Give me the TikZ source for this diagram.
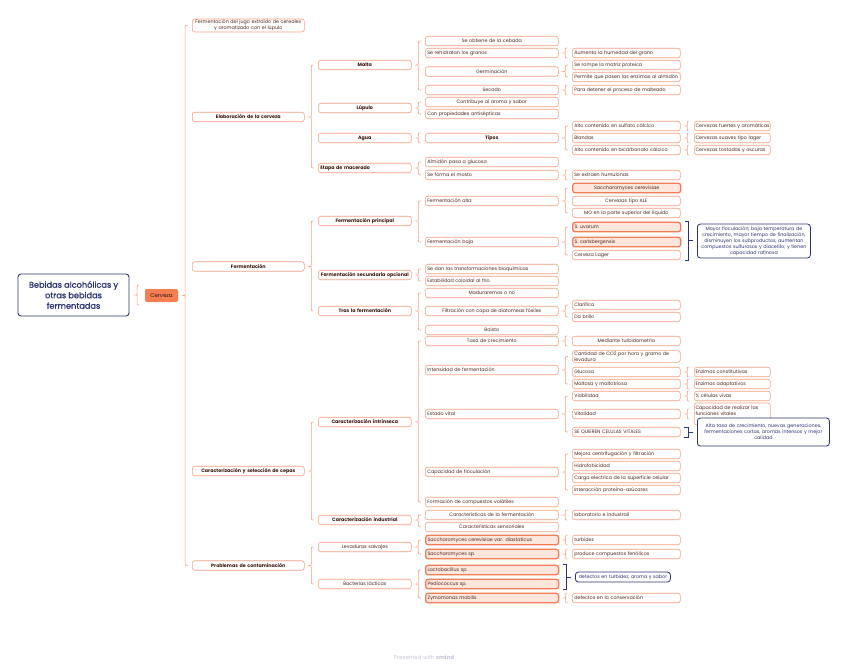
\documentclass[tikz,border=0pt]{standalone}
\usepackage{fontspec}
\setmainfont{Poppins}
\newfontfamily\ttlfont[FakeBold=1.2]{Poppins}
\usetikzlibrary{calc}
\definecolor{ob}{HTML}{F6A07F}
\definecolor{tx}{HTML}{4E261B}
\definecolor{txb}{HTML}{3A170D}
\definecolor{hlf}{HTML}{FDE6DC}
\definecolor{hld}{HTML}{F27C55}
\definecolor{cerv}{HTML}{F57F52}
\definecolor{navy}{HTML}{2B3475}
\definecolor{wmc}{HTML}{C9C4DD}
\newcommand\fsz{\fontsize{4.8}{6}\selectfont}
\tikzset{
 base/.style={rectangle, rounded corners=2.5pt, draw=ob, line width=0.6pt, fill=white, text=tx, font=\fsz, inner xsep=2pt, inner ysep=1pt, minimum height=9.5pt, anchor=west},
 Lone/.style={base, text width=108pt},
 Ltwo/.style={base, text width=89pt},
 Lthree/.style={base, text width=129pt},
 Lfour/.style={base, text width=104pt},
 Lfive/.style={base, inner xsep=1.2pt, text width=73.6pt},
 ctr/.style={align=center},
 lft/.style={align=left},
 bld/.style={font=\fsz\bfseries, text=txb},
 hl/.style={fill=hlf, draw=hld, line width=1.3pt},
 brcst/.style={draw=ob, line width=0.6pt},
 sbr/.style={draw=navy, line width=0.8pt},
 sumbox/.style={rectangle, rounded corners=3pt, draw=navy, line width=0.8pt, fill=white, text=navy, font=\fsz, align=center, inner sep=1pt, anchor=west},
}
\newcommand\brc[3]{%
 \draw[brcst] let \p1=(#1.east), \p2=(#2.west), \p3=(#3.west), \n1={(\x1+\x2)/2} in
  (\n1+2.5,\y2) .. controls (\n1,\y2) .. (\n1,\y2-2.5) -- (\n1,\y1+2) .. controls (\n1,\y1) .. (\n1-2,\y1) .. controls (\n1,\y1) .. (\n1,\y1-2) -- (\n1,\y3+2.5) .. controls (\n1,\y3) .. (\n1+2.5,\y3);}
\newcommand\brcs[3]{%
 \draw[brcst] let \p1=(#1.east), \p2=(#2.west), \n1={(\x1+\x2)/2}, \n2={#3} in
  (\n1+2,\y1+\n2) .. controls (\n1,\y1+\n2) .. (\n1,\y1+\n2-2) -- (\n1,\y1+1.5) .. controls (\n1,\y1) .. (\n1-1.8,\y1) .. controls (\n1,\y1) .. (\n1,\y1-1.5) -- (\n1,\y1-\n2+2) .. controls (\n1,\y1-\n2) .. (\n1+2,\y1-\n2);}
\newcommand\sumbr[3]{%
 \draw[sbr] let \p1=(#1.north east), \p2=(#2.south east), \p3=(#3.west), \n1={\x1+7.5} in
  (\n1-4,\y1) -- (\n1,\y1) -- (\n1,\y2) -- (\n1-4,\y2)
  (\n1,{(\y1+\y2)/2}) -- (\x3-4,{(\y1+\y2)/2});}
\begin{document}
\begin{tikzpicture}[x=1pt,y=1pt]
\fill[white] (0,0) rectangle (848,-667);
\useasboundingbox (0,0) rectangle (848,-667);
% root
\node[draw=navy, line width=0.9pt, rounded corners=3pt, minimum width=111pt, minimum height=42pt, text=navy, align=center, font=\ttlfont\fontsize{8.2}{10.5}\selectfont, fill=white] (root) at (73.5,-295) {Bebidas alcohólicas y\\otras bebidas\\fermentadas};
\node[fill=cerv, rounded corners=2pt, minimum width=33pt, minimum height=13pt, inner sep=0pt, text=txb, font=\fontsize{5.5}{6}\selectfont] (cerv) at (161.5,-295.5) {Cerveza};
% level 1
\node[Lone,ctr] (f1) at (192,-25.5) {Fermentación del jugo extraído de cereales\\y aromatizado con el lúpulo};
\node[Lone,ctr,bld] (elab) at (192,-117) {Elaboración de la cerveza};
\node[Lone,ctr,bld] (ferm) at (192,-266.5) {Fermentación};
\node[Lone,ctr,bld] (carac) at (192,-471) {Caracterización y selección de cepas};
\node[Lone,ctr,bld] (prob) at (192,-565.5) {Problemas de contaminación};
% level 2
\node[Ltwo,ctr,bld] (malta) at (318,-65) {Malta};
\node[Ltwo,ctr,bld] (lupulo) at (318,-108) {Lúpulo};
\node[Ltwo,ctr,bld] (agua) at (318,-138) {Agua};
\node[Ltwo,lft,bld] (etapa) at (318,-168) {Etapa de macerado};
\node[Ltwo,ctr,bld] (fprin) at (318,-221) {Fermentación principal};
\node[Ltwo,ctr,bld] (fsec) at (318,-275) {Fermentación secundaria opcional};
\node[Ltwo,ctr,bld] (tras) at (318,-311) {Tras la fermentación};
\node[Ltwo,ctr,bld] (cintr) at (318,-422) {Caracterización intrínseca};
\node[Ltwo,ctr,bld] (cind) at (318,-520) {Caracterización industrial};
\node[Ltwo,ctr] (lev) at (318,-547) {Levaduras salvajes};
\node[Ltwo,ctr] (bac) at (318,-584) {Bacterias lácticas};
% level 3
\node[Lthree,ctr] (obt) at (425,-41) {Se obtiene de la cebada};
\node[Lthree,lft] (rehid) at (425,-53) {Se rehidratan los granos};
\node[Lthree,ctr] (germ) at (425,-71.5) {Germinación};
\node[Lthree,ctr] (secado) at (425,-90) {Secado};
\node[Lthree,ctr] (contrib) at (425,-102) {Contribuye al aroma y sabor};
\node[Lthree,lft] (antis) at (425,-114) {Con propiedades antisépticas};
\node[Lthree,ctr,bld] (tipos) at (425,-138) {Tipos};
\node[Lthree,lft] (almidon) at (425,-162) {Almidón pasa a glucosa};
\node[Lthree,lft] (mosto) at (425,-175) {Se forma el mosto};
\node[Lthree,lft] (falta) at (425,-201) {Fermentación alta};
\node[Lthree,lft] (fbaja) at (425,-242) {Fermentación baja};
\node[Lthree,lft] (trans) at (425,-269) {Se dan las transformaciones bioquímicas};
\node[Lthree,lft] (estab) at (425,-281) {Estabilidad coloidal al frío};
\node[Lthree,ctr] (madur) at (425,-293) {Maduraremos o no};
\node[Lthree,ctr] (filtr) at (425,-311) {Filtración con capa de diatomeas fósiles};
\node[Lthree,ctr] (baisto) at (425,-330) {Baisto};
\node[Lthree,ctr] (tasa) at (425,-341) {Tasa de crecimiento};
\node[Lthree,lft] (intens) at (425,-370) {Intensidad de fermentación};
\node[Lthree,lft] (estado) at (425,-414) {Estado vital};
\node[Lthree,lft] (flocul) at (425,-472) {Capacidad de floculación};
\node[Lthree,lft] (volat) at (425,-502) {Formación de compuestos volátiles};
\node[Lthree,ctr] (cferm) at (425,-515) {Características de la fermentación};
\node[Lthree,ctr] (csens) at (425,-527) {Características sensoriales};
\node[Lthree,lft,hl] (sdiast) at (425,-540) {Saccharomyces cerevisiae var. diastaticus};
\node[Lthree,lft,hl] (ssp) at (425,-554) {Saccharomyces sp.};
\node[Lthree,lft,hl] (lacto) at (425,-570) {Lactobacillus sp.};
\node[Lthree,lft,hl] (pedio) at (425,-584) {Pediococcus sp.};
\node[Lthree,lft,hl] (zymo) at (425,-598) {Zymomonas mobilis};
% level 4
\node[Lfour,lft] (aum) at (572,-53) {Aumenta la humedad del grano};
\node[Lfour,lft] (rompe) at (572,-65) {Se rompe la matriz proteica};
\node[Lfour,lft] (permite) at (572,-77) {Permite que pasen las enzimas al almidón};
\node[Lfour,lft] (detener) at (572,-90) {Para detener el proceso de malteado};
\node[Lfour,lft] (sulf) at (572,-126) {Alto contenido en sulfato cálcico};
\node[Lfour,lft] (bland) at (572,-138) {Blandas};
\node[Lfour,lft] (bicar) at (572,-150) {Alto contenido en bicarbonato cálcico};
\node[Lfour,lft] (humul) at (572,-175) {Se extraen humulonas};
\node[Lfour,ctr,hl] (scer) at (572,-188) {Saccharomyces cerevisiae};
\node[Lfour,ctr] (ale) at (572,-201) {Cervezas tipo ALE};
\node[Lfour,ctr] (mo) at (572,-213) {MO en la parte superior del líquido};
\node[Lfour,lft,hl] (uvar) at (572,-227) {S. uvarum};
\node[Lfour,lft,hl] (carls) at (572,-242) {S. carlsbergensis};
\node[Lfour,lft] (lager) at (572,-255) {Cerveza Lager};
\node[Lfour,lft] (clar) at (572,-305) {Clarifica};
\node[Lfour,lft] (brillo) at (572,-317) {Da brillo};
\node[Lfour,ctr] (turbid) at (572,-341) {Mediante turbidometría};
\node[Lfour,lft] (co2) at (572,-356.5) {Cantidad de CO2 por hora y gramo de\\levadura};
\node[Lfour,lft] (gluc) at (572,-372) {Glucosa};
\node[Lfour,lft] (malt) at (572,-384) {Maltosa y maltotriosa};
\node[Lfour,lft] (viab) at (572,-396) {Viabilidad};
\node[Lfour,lft] (vital) at (572,-414) {Vitalidad};
\node[Lfour,lft] (quier) at (572,-432) {SE QUIEREN CELULAS VITALES};
\node[Lfour,lft] (mejora) at (572,-454) {Mejora centrifugación y filtración};
\node[Lfour,lft] (hidro) at (572,-466) {Hidrofobicidad};
\node[Lfour,lft] (carga) at (572,-478) {Carga electrica de la superficie celular};
\node[Lfour,lft] (inter) at (572,-490) {Interacción proteína-azúcares};
\node[Lfour,lft] (lab) at (572,-515) {laboratorio e industrail};
\node[Lfour,lft] (turbidez) at (572,-540) {turbidez};
\node[Lfour,lft] (fenol) at (572,-554) {produce compuestos fenólicos};
\node[Lfour,lft] (conserv) at (572,-598) {defectos en la conservación};
% level 5
\node[Lfive,lft] (fuertes) at (694,-126) {\mbox{Cervezas fuertes y aromáticas}};
\node[Lfive,lft] (suaves) at (694,-138) {Cervezas suaves tipo lager};
\node[Lfive,lft] (tostadas) at (694,-150) {Cervezas tostadas y oscuras};
\node[Lfive,lft] (constit) at (694,-372) {Enzimas constitutivas};
\node[Lfive,lft] (adapt) at (694,-384) {Enzimas adaptativos};
\node[Lfive,lft] (vivas) at (694,-396) {\% células vivas};
\node[Lfive,lft,minimum height=22pt] (realiz) at (694,-414) {Capacidad de realizar las\\funciones vitales\\\mbox{}};
% braces
\brcs{root}{cerv}{10}
\brc{cerv}{f1}{prob}
\brc{elab}{malta}{etapa}
\brc{ferm}{fprin}{tras}
\brc{carac}{cintr}{cind}
\brc{prob}{lev}{bac}
\brc{malta}{obt}{secado}
\brc{lupulo}{contrib}{antis}
\brcs{agua}{tipos}{5}
\brc{etapa}{almidon}{mosto}
\brc{fprin}{falta}{fbaja}
\brc{fsec}{trans}{estab}
\brc{tras}{madur}{baisto}
\brc{cintr}{tasa}{volat}
\brc{cind}{cferm}{csens}
\brc{lev}{sdiast}{ssp}
\brc{bac}{lacto}{zymo}
\brcs{rehid}{aum}{5}
\brc{germ}{rompe}{permite}
\brcs{secado}{detener}{5}
\brc{tipos}{sulf}{bicar}
\brcs{mosto}{humul}{5}
\brc{falta}{scer}{mo}
\brc{fbaja}{uvar}{lager}
\brc{filtr}{clar}{brillo}
\brcs{tasa}{turbid}{5}
\brc{intens}{co2}{malt}
\brc{estado}{viab}{quier}
\brc{flocul}{mejora}{inter}
\brcs{cferm}{lab}{5}
\brcs{sdiast}{turbidez}{5}
\brcs{ssp}{fenol}{5}
\brcs{zymo}{conserv}{5}
\brcs{sulf}{fuertes}{5}
\brcs{bland}{suaves}{5}
\brcs{bicar}{tostadas}{5}
\brcs{gluc}{constit}{5}
\brcs{malt}{adapt}{5}
\brcs{viab}{vivas}{5}
\brcs{vital}{realiz}{5}
% summaries
\node[sumbox, text width=111pt, minimum height=34pt] (sum1) at (697,-241) {Mayor floculación, baja temperatura de\\crecimiento, mayor tiempo de finalización,\\disminuyen los subproductos, aumentan\\compuestos sulfurosos y diacetilo; y tienen\\capacidad rafinosa};
\node[sumbox, text width=130pt, minimum height=28pt] (sum2) at (697,-432) {Alta tasa de crecimiento, nuevas generaciones,\\fermentaciones cortas, aromas intensos y mejor\\calidad};
\node[sumbox, text width=93pt, minimum height=10pt] (sum3) at (575,-577) {defectos en turbidez, aroma y sabor};
\sumbr{uvar}{lager}{sum1}
\sumbr{quier}{quier}{sum2}
\sumbr{lacto}{pedio}{sum3}
% watermark
\node[text=wmc, font=\fontsize{5.5}{6}\selectfont] (wm) at (424,-657) {Presented with \textbf{xmind}};
\end{tikzpicture}
\end{document}
